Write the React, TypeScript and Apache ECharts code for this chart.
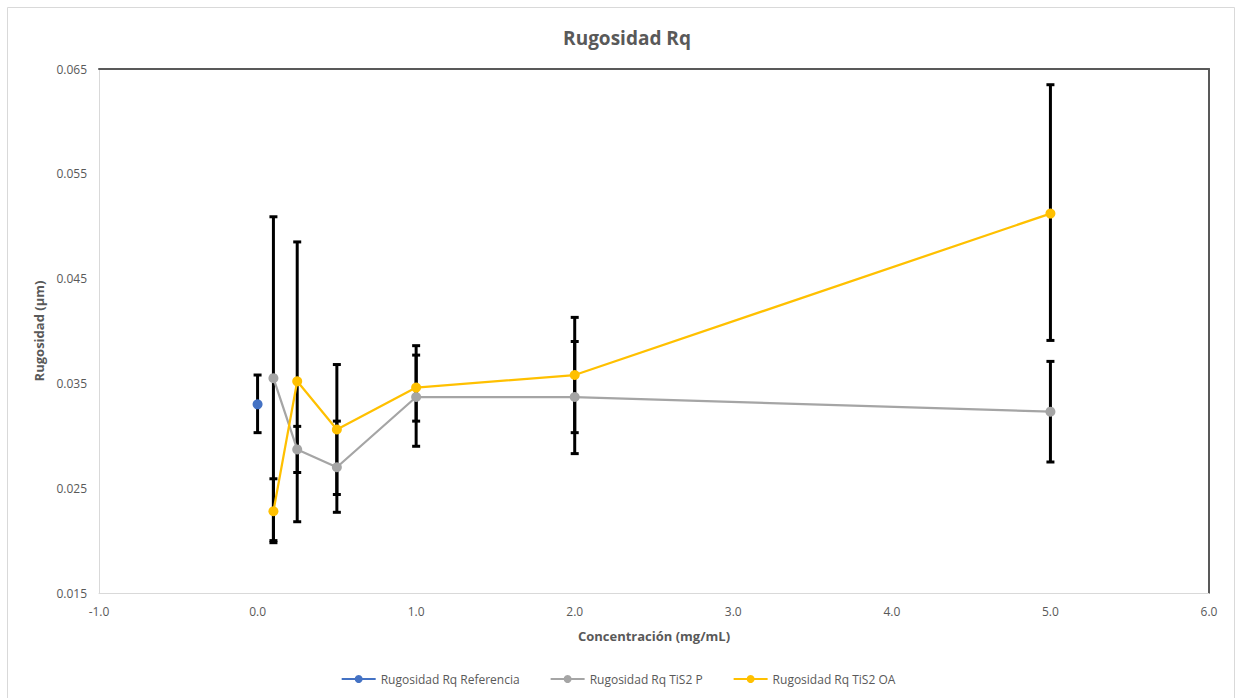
import React, { useEffect, useRef } from "react";
import * as echarts from "echarts";

const titleText = "Rugosidad Rq";
const xAxisName = "Concentración (mg/mL)";
const yAxisName = "Rugosidad (µm)";

const seriesNames = ["Rugosidad Rq Referencia", "Rugosidad Rq TiS2 P", "Rugosidad Rq TiS2 OA"];
const seriesColors = ["#4472C4", "#A5A5A5", "#FFC000"];

const xRef = [0.0];
const refValues = [0.033];
const refLow = [0.0303];
const refHigh = [0.0358];

const xTiS2 = [0.1, 0.25, 0.5, 1.0, 2.0, 5.0];
const tis2PValues = [0.0355, 0.0287, 0.027, 0.0337, 0.0337, 0.0323];
const tis2PLow = [0.02, 0.0265, 0.0227, 0.029, 0.0283, 0.0275];
const tis2PHigh = [0.0509, 0.0309, 0.0314, 0.0377, 0.039, 0.0371];

const tis2OAValues = [0.0228, 0.0352, 0.0306, 0.0346, 0.0358, 0.0512];
const tis2OALow = [0.0198, 0.0218, 0.0244, 0.0314, 0.0303, 0.0391];
const tis2OAHigh = [0.0259, 0.0485, 0.0368, 0.0386, 0.0413, 0.0635];

const FONT = "'Open Sans', sans-serif";
const TEXT_COLOR = "#595959";

function errorBarSeries(xs: number[], lows: number[], highs: number[]) {
  return {
    type: "custom",
    silent: true,
    z: 1,
    data: xs.map((x, i) => [x, lows[i], highs[i]]),
    encode: { x: 0, y: [1, 2] },
    renderItem: (params: any, api: any) => {
      const x = api.value(0);
      const lo = api.coord([x, api.value(1)]);
      const hi = api.coord([x, api.value(2)]);
      const half = 4;
      const style = { stroke: "#000000", lineWidth: 3 };
      return {
        type: "group",
        children: [
          { type: "line", shape: { x1: hi[0], y1: hi[1], x2: lo[0], y2: lo[1] }, style },
          { type: "line", shape: { x1: hi[0] - half, y1: hi[1], x2: hi[0] + half, y2: hi[1] }, style },
          { type: "line", shape: { x1: lo[0] - half, y1: lo[1], x2: lo[0] + half, y2: lo[1] }, style },
        ],
      };
    },
  };
}

function lineSeries(name: string, color: string, xs: number[], ys: number[]) {
  return {
    name,
    type: "line",
    z: 3,
    data: xs.map((x, i) => [x, ys[i]]),
    symbol: "circle",
    symbolSize: 10,
    lineStyle: { color, width: 2.25 },
    itemStyle: { color },
  };
}

export default function App() {
  const ref = useRef<HTMLDivElement>(null);
  useEffect(() => {
    if (!ref.current) return;
    const chart = echarts.init(ref.current, undefined, { renderer: "svg" });
    chart.setOption({
      animation: false,
      backgroundColor: "#ffffff",
      title: {
        text: titleText,
        left: 622,
        textAlign: "center",
        top: 23,
        textStyle: { fontFamily: FONT, fontSize: 19, fontWeight: "bold", color: TEXT_COLOR },
      },
      graphic: [
        {
          type: "rect",
          shape: { x: 7.5, y: 7.5, width: 1227, height: 700 },
          style: { fill: "none", stroke: "#d9d9d9", lineWidth: 1 },
          silent: true,
        },
      ],
      legend: {
        data: seriesNames,
        bottom: 8,
        left: "center",
        itemWidth: 34,
        itemHeight: 10,
        itemGap: 30,
        textStyle: { fontFamily: FONT, fontSize: 12, color: TEXT_COLOR },
      },
      grid: { left: 99, right: 27, top: 69, bottom: 105 },
      xAxis: [
        {
          type: "value",
          min: -1,
          max: 6,
          interval: 1,
          name: xAxisName,
          nameLocation: "middle",
          nameGap: 36,
          nameTextStyle: { fontFamily: FONT, fontSize: 13, fontWeight: "bold", color: TEXT_COLOR },
          axisLine: { show: true, onZero: false, lineStyle: { color: "#d9d9d9", width: 1 } },
          axisTick: { show: false },
          splitLine: { show: false },
          axisLabel: {
            fontFamily: FONT,
            fontSize: 12,
            color: TEXT_COLOR,
            margin: 12,
            formatter: (v: number) => v.toFixed(1),
          },
        },
        {
          type: "value",
          position: "top",
          min: -1,
          max: 6,
          axisLine: { show: true, onZero: false, lineStyle: { color: "#595959", width: 2 } },
          axisTick: { show: false },
          axisLabel: { show: false },
          splitLine: { show: false },
        },
      ],
      yAxis: [
        {
          type: "value",
          min: 0.015,
          max: 0.065,
          interval: 0.01,
          name: yAxisName,
          nameLocation: "middle",
          nameGap: 52,
          nameTextStyle: { fontFamily: FONT, fontSize: 13, fontWeight: "bold", color: TEXT_COLOR },
          axisLine: { show: true, onZero: false, lineStyle: { color: "#d9d9d9", width: 1 } },
          axisTick: { show: false },
          splitLine: { show: false },
          axisLabel: {
            fontFamily: FONT,
            fontSize: 12,
            color: TEXT_COLOR,
            margin: 12,
            formatter: (v: number) => v.toFixed(3),
          },
        },
        {
          type: "value",
          position: "right",
          min: 0.015,
          max: 0.065,
          axisLine: { show: true, onZero: false, lineStyle: { color: "#595959", width: 2 } },
          axisTick: { show: false },
          axisLabel: { show: false },
          splitLine: { show: false },
        },
      ],
      series: [
        errorBarSeries(xRef, refLow, refHigh),
        errorBarSeries(xTiS2, tis2PLow, tis2PHigh),
        errorBarSeries(xTiS2, tis2OALow, tis2OAHigh),
        lineSeries(seriesNames[0], seriesColors[0], xRef, refValues),
        lineSeries(seriesNames[1], seriesColors[1], xTiS2, tis2PValues),
        lineSeries(seriesNames[2], seriesColors[2], xTiS2, tis2OAValues),
      ],
    });
    return () => chart.dispose();
  }, []);
  return (
    <div
      ref={ref}
      style={{ position: "fixed", left: 0, top: 0, width: 1236, height: 698 }}
    />
  );
}
